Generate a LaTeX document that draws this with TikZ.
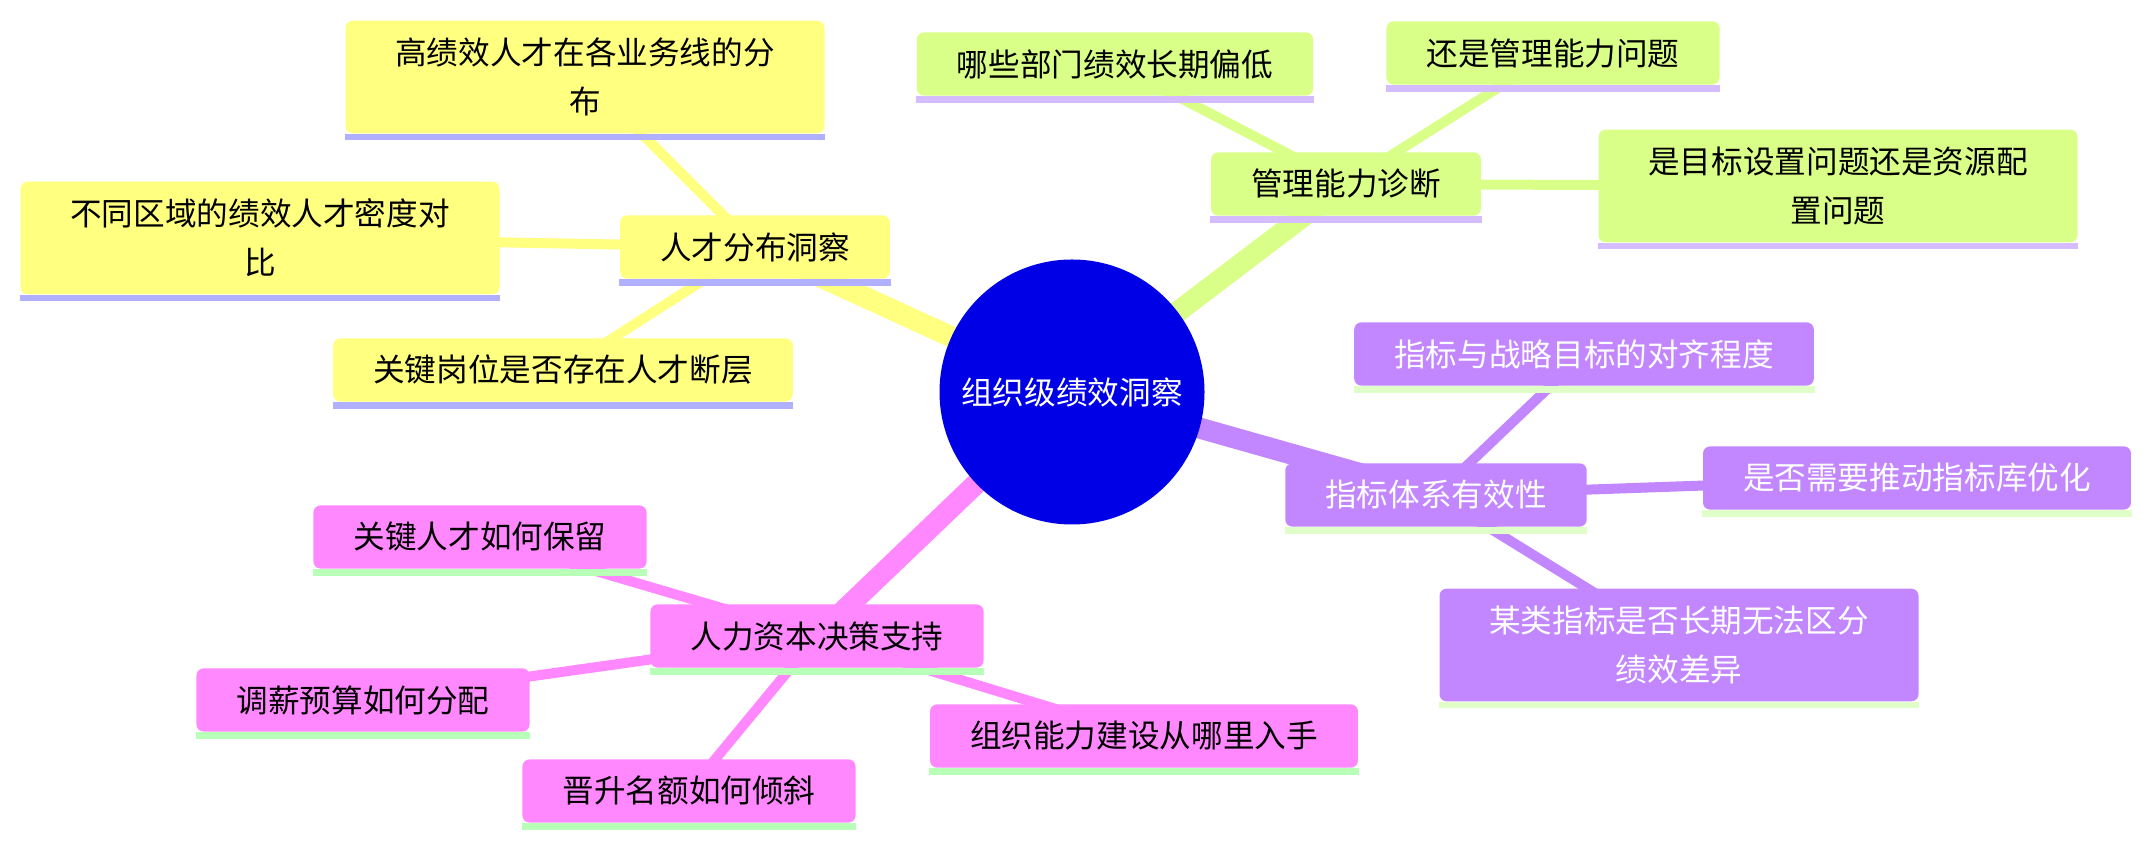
\documentclass[tikz,border=0pt]{standalone}
\usepackage{fontspec}
\setmainfont{Noto Sans CJK SC}
\usetikzlibrary{backgrounds}

\definecolor{rootblue}{RGB}{0,0,230}
\definecolor{ylwfill}{RGB}{255,255,128}
\definecolor{ylwline}{RGB}{176,176,255}
\definecolor{grnfill}{RGB}{218,255,136}
\definecolor{grnline}{RGB}{212,188,255}
\definecolor{vltfill}{RGB}{194,135,255}
\definecolor{vltline}{RGB}{224,255,200}
\definecolor{pnkfill}{RGB}{255,136,255}
\definecolor{pnkline}{RGB}{184,255,184}

\begin{document}
\begin{tikzpicture}[
  font=\fontsize{9}{13.9}\selectfont,
  root/.style={circle, fill=rootblue, text=white, minimum size=2.65cm, inner sep=0pt},
  topic/.style={rounded corners=2pt, align=center, minimum height=0.632cm,
    inner xsep=0.4cm, inner ysep=2pt},
  wide/.style={topic, minimum width=4.79cm, minimum height=1.126cm},
  trunk/.style={line width=0.21cm},
  twig/.style={line width=0.1cm}
]
\useasboundingbox (0,0) rectangle (21.53,8.46);

\node[root] (root) at (10.72,4.54) {组织级绩效洞察};

% talent distribution
\node[topic, fill=ylwfill] (talent) at (7.55,5.99) {人才分布洞察};
\node[wide, fill=ylwfill] (lineDist) at (5.85,7.69) {高绩效人才在各业务线的分\\布};
\node[wide, fill=ylwfill] (regionDensity) at (2.60,6.08) {不同区域的绩效人才密度对\\比};
\node[topic, fill=ylwfill] (keyGap) at (5.63,4.76) {关键岗位是否存在人才断层};

% management diagnosis
\node[topic, fill=grnfill] (manage) at (13.46,6.62) {管理能力诊断};
\node[topic, fill=grnfill] (lowDept) at (11.15,7.82) {哪些部门绩效长期偏低};
\node[topic, fill=grnfill] (mgmtIssue) at (15.53,7.93) {还是管理能力问题};
\node[wide, fill=grnfill] (goalOrRes) at (18.38,6.60) {是目标设置问题还是资源配\\置问题};

% metric system
\node[topic, fill=vltfill, text=white] (metric) at (14.36,3.51) {指标体系有效性};
\node[topic, fill=vltfill, text=white] (alignment) at (15.84,4.92) {指标与战略目标的对齐程度};
\node[topic, fill=vltfill, text=white] (libOpt) at (19.17,3.68) {是否需要推动指标库优化};
\node[wide, fill=vltfill, text=white] (noDiff) at (16.79,2.01) {某类指标是否长期无法区分\\绩效差异};

% human capital decisions
\node[topic, fill=pnkfill] (capital) at (8.17,2.10) {人力资本决策支持};
\node[topic, fill=pnkfill] (retain) at (4.80,3.09) {关键人才如何保留};
\node[topic, fill=pnkfill] (payBudget) at (3.63,1.46) {调薪预算如何分配};
\node[topic, fill=pnkfill] (promo) at (6.89,0.55) {晋升名额如何倾斜};
\node[topic, fill=pnkfill] (orgBuild) at (11.44,1.10) {组织能力建设从哪里入手};

\foreach \n/\c in {talent/ylwline, lineDist/ylwline, regionDensity/ylwline, keyGap/ylwline,
    manage/grnline, lowDept/grnline, mgmtIssue/grnline, goalOrRes/grnline,
    metric/vltline, alignment/vltline, libOpt/vltline, noDiff/vltline,
    capital/pnkline, retain/pnkline, payBudget/pnkline, promo/pnkline, orgBuild/pnkline}
  \fill[\c] (\n.south west) rectangle ([yshift=-0.065cm]\n.south east);

\begin{scope}[on background layer]
\draw[trunk, ylwfill] (root.center) -- (talent.center);
\draw[trunk, grnfill] (root.center) -- (manage.center);
\draw[trunk, vltfill] (root.center) -- (metric.center);
\draw[trunk, pnkfill] (root.center) -- (capital.center);
\foreach \a/\b in {lineDist/talent, regionDensity/talent, keyGap/talent}
  \draw[twig, ylwfill] (\a.center) -- (\b.center);
\foreach \a/\b in {lowDept/manage, mgmtIssue/manage, goalOrRes/manage}
  \draw[twig, grnfill] (\a.center) -- (\b.center);
\foreach \a/\b in {alignment/metric, libOpt/metric, noDiff/metric}
  \draw[twig, vltfill] (\a.center) -- (\b.center);
\foreach \a/\b in {retain/capital, payBudget/capital, promo/capital, orgBuild/capital}
  \draw[twig, pnkfill] (\a.center) -- (\b.center);
\end{scope}
\end{tikzpicture}
\end{document}
